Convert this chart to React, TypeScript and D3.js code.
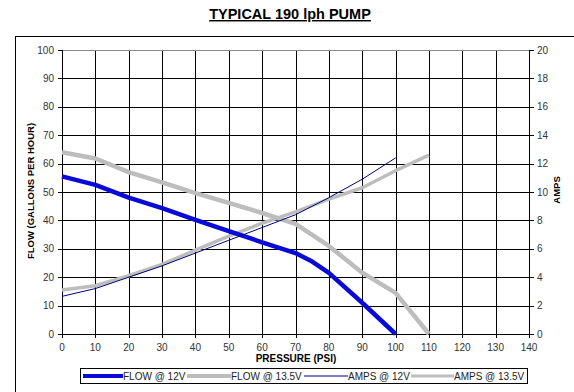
import * as React from "react";
import * as d3 from "d3";

const pressure = [0, 10, 20, 30, 40, 50, 60, 70, 75, 80, 90, 100];
const flow12 = [55.5, 52.5, 48, 44.3, 40.2, 36.2, 32.3, 28.5, 25.5, 21.5, 11, 0];

const pressure135 = [0, 10, 20, 30, 40, 50, 60, 70, 80, 90, 100, 110];
const flow135 = [64, 61.8, 57, 53.4, 49.6, 46.2, 42.6, 38.8, 31, 21.6, 14.5, 0];

const ampPressure12 = [0, 10, 20, 30, 40, 50, 60, 70, 80, 90, 100];
const amps12 = [2.65, 3.2, 4.0, 4.8, 5.7, 6.6, 7.5, 8.4, 9.6, 10.9, 12.4];

const ampPressure135 = [0, 10, 20, 30, 40, 50, 60, 70, 80, 90, 100, 110];
const amps135 = [3.1, 3.4, 4.1, 4.9, 5.9, 6.9, 7.8, 8.6, 9.5, 10.3, 11.5, 12.6];

const xTicks = d3.range(0, 141, 10);
const yTicks = d3.range(0, 101, 10);
const y2Ticks = d3.range(0, 21, 2);

const legendItems = [
  { label: "FLOW @ 12V", color: "#0a0ad8", width: 4, x: 83, len: 40 },
  { label: "FLOW @ 13.5V", color: "#bdbdbd", width: 4, x: 187, len: 44 },
  { label: "AMPS @ 12V", color: "#000080", width: 1, x: 304, len: 44 },
  { label: "AMPS @ 13.5V", color: "#bdbdbd", width: 3, x: 411, len: 43 },
];

const font = "Arial, 'Liberation Sans', sans-serif";

export default function App() {
  const width = 574;
  const height = 392;
  const x = d3.scaleLinear().domain([0, 140]).range([62, 529]);
  const y = d3.scaleLinear().domain([0, 100]).range([334, 50]);
  const y2 = d3.scaleLinear().domain([0, 20]).range([334, 50]);

  const line = d3.line<[number, number]>().x(d => x(d[0])).y(d => y(d[1]));
  const line2 = d3.line<[number, number]>().x(d => x(d[0])).y(d => y2(d[1]));

  const zip = (a: number[], b: number[]) => a.map((v, i) => [v, b[i]] as [number, number]);

  return (
    <svg width={width} height={height} style={{ position: "absolute", left: 0, top: 0, background: "#fff" }}>
      <rect x={0} y={0} width={width} height={height} fill="#fff" />
      <text x={290} y={19} textAnchor="middle" fontFamily={font} fontWeight="bold" fontSize={14.5} textDecoration="underline">
        TYPICAL 190 lph PUMP
      </text>
      <rect x={15.5} y={36.5} width={600} height={400} fill="none" stroke="#000" strokeWidth={1} />

      {/* grid */}
      {xTicks.slice(1, -1).map(t => (
        <line key={"gx" + t} x1={Math.round(x(t)) + 0.5} x2={Math.round(x(t)) + 0.5} y1={50} y2={334} stroke="#000" />
      ))}
      {yTicks.slice(0, -1).map(t => (
        <line key={"gy" + t} x1={62} x2={529} y1={Math.round(y(t)) + 0.5} y2={Math.round(y(t)) + 0.5} stroke="#000" />
      ))}
      <line x1={62} x2={529} y1={50.5} y2={50.5} stroke="#888" />
      <line x1={62.5} x2={62.5} y1={50} y2={335} stroke="#000" />
      <line x1={529.5} x2={529.5} y1={50} y2={335} stroke="#000" />

      {/* ticks */}
      {yTicks.map(t => (
        <g key={"ty" + t}>
          <line x1={58} x2={62} y1={Math.round(y(t)) + 0.5} y2={Math.round(y(t)) + 0.5} stroke="#000" />
          <text x={54} y={y(t) + 3.5} textAnchor="end" fontFamily={font} fontSize={10} fill="#333">{t}</text>
        </g>
      ))}
      {y2Ticks.map(t => (
        <g key={"ty2" + t}>
          <line x1={529} x2={534} y1={Math.round(y2(t)) + 0.5} y2={Math.round(y2(t)) + 0.5} stroke="#000" />
          <text x={537} y={y2(t) + 3.5} textAnchor="start" fontFamily={font} fontSize={10} fill="#333">{t}</text>
        </g>
      ))}
      {xTicks.map(t => (
        <g key={"tx" + t}>
          <line x1={Math.round(x(t)) + 0.5} x2={Math.round(x(t)) + 0.5} y1={334} y2={338} stroke="#000" />
          <text x={x(t)} y={351} textAnchor="middle" fontFamily={font} fontSize={10} fill="#333">{t}</text>
        </g>
      ))}

      {/* axis titles */}
      <text x={296} y={362} textAnchor="middle" fontFamily={font} fontWeight="bold" fontSize={10}>PRESSURE (PSI)</text>
      <text transform={`translate(34,191) rotate(-90)`} textAnchor="middle" fontFamily={font} fontWeight="bold" fontSize={9.5}>
        FLOW (GALLONS PER HOUR)
      </text>
      <text transform={`translate(560,190) rotate(-90)`} textAnchor="middle" fontFamily={font} fontWeight="bold" fontSize={9.5}>
        AMPS
      </text>

      {/* series */}
      <path d={line(zip(pressure135, flow135)) || ""} fill="none" stroke="#bdbdbd" strokeWidth={4.5} strokeLinejoin="round" />
      <path d={line2(zip(ampPressure135, amps135)) || ""} fill="none" stroke="#bdbdbd" strokeWidth={3.5} strokeLinejoin="round" />
      <path d={line(zip(pressure, flow12)) || ""} fill="none" stroke="#0a0ad8" strokeWidth={4.5} strokeLinejoin="round" />
      <path d={line2(zip(ampPressure12, amps12)) || ""} fill="none" stroke="#000080" strokeWidth={1} />

      {/* legend */}
      <rect x={80.5} y={368.5} width={447} height={15} fill="#fff" stroke="#000" />
      {legendItems.map(d => (
        <g key={d.label}>
          <line x1={d.x} x2={d.x + d.len} y1={376} y2={376} stroke={d.color} strokeWidth={d.width} />
          <text x={d.x + d.len} y={380} fontFamily={font} fontSize={10} fill="#222">{d.label}</text>
        </g>
      ))}
    </svg>
  );
}
